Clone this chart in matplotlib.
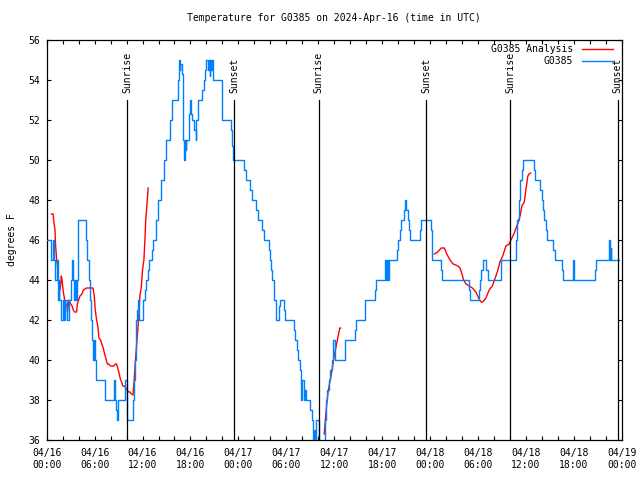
import matplotlib
matplotlib.use("Agg")
import matplotlib.pyplot as plt

# hours since 04/16 00:00 UTC
obs_hours = [0.0, 0.6, 0.75, 0.9, 1.1, 1.3, 1.4, 1.5, 1.6, 1.85, 2.0, 2.15, 2.3, 2.5, 2.75,
             3.05, 3.15, 3.3, 3.45, 3.6, 3.7, 3.85, 3.95, 4.9, 5.1, 5.3, 5.45, 5.6, 5.7, 5.8,
             5.95, 6.05, 6.2, 7.3, 8.4, 8.5, 8.65, 8.85, 8.95, 9.85, 10.1, 10.75, 10.9, 11.0,
             11.2, 11.25, 11.4, 11.5, 11.6, 12.0, 12.3, 12.4, 12.7, 12.8, 13.2, 13.3, 13.7,
             13.96, 14.25, 14.7, 14.9, 15.4, 15.75, 16.5, 16.6, 16.67, 16.75, 16.9, 17.1, 17.2,
             17.3, 17.4, 17.5, 17.8, 17.9, 18.1, 18.25, 18.5, 18.67, 18.75, 18.96, 19.5, 19.67,
             19.8, 19.9, 20.2, 20.3, 20.4, 20.5, 20.6, 20.75, 20.8, 21.9, 22.0, 23.05, 23.2,
             23.3, 24.7, 24.9, 25.5, 25.7, 26.25, 26.4, 27.0, 27.2, 27.8, 28.0, 28.1, 28.25,
             28.5, 28.75, 29.1, 29.2, 29.7, 29.9, 31.0, 31.1, 31.4, 31.5, 31.7, 31.8, 31.9,
             32.0, 32.2, 32.3, 32.5, 33.0, 33.2, 33.3, 33.45, 33.6, 33.7, 34.05, 34.85, 34.95,
             35.1, 35.3, 35.5, 35.7, 35.85, 36.1, 37.3, 37.4, 38.6, 38.75, 39.8, 39.9, 41.1,
             41.2, 42.3, 42.4, 42.5, 42.6, 42.7, 42.8, 43.9, 44.0, 44.2, 44.4, 44.7, 44.9,
             45.05, 45.2, 45.35, 45.5, 46.7, 46.9, 48.1, 48.2, 48.3, 49.4, 49.55, 52.85, 53.0,
             54.1, 54.2, 54.4, 54.6, 55.0, 55.2, 56.9, 58.8, 58.95, 59.1, 59.3, 59.5, 59.65,
             61.0, 61.2, 61.8, 62.0, 62.2, 62.3, 62.5, 62.6, 63.4, 63.6, 64.5, 64.6, 65.9,
             66.0, 68.7, 68.8, 70.4, 70.5, 70.6, 70.7, 71.6]
obs_temps = [46, 45, 46, 45, 44, 45, 43, 44, 43, 42, 43, 42, 43, 42, 43,
             44, 45, 44, 43, 44, 43, 44, 47, 46, 45, 44, 43, 42, 41, 40,
             41, 40, 39, 38, 39, 38, 37.5, 37, 38, 39, 37, 38, 39, 40,
             42, 42.5, 43, 42.6, 42, 43, 43.5, 44, 44.5, 45, 45.5, 46, 47,
             48, 49, 50, 51, 52, 53, 54, 55, 54.5, 54.8, 54.3, 51, 50,
             51, 50.5, 51, 52.3, 53, 52.3, 52, 51.5, 51, 52, 53, 53.5, 54,
             54.5, 55, 54.5, 55, 54.2, 55, 54.5, 55, 54, 53, 52, 51.5, 50.7,
             50, 49.5, 49, 48.5, 48, 47.5, 47, 46.5, 46, 45.5, 45, 44.5, 44,
             43, 42, 42.7, 43, 42.5, 42, 41.5, 41, 40.5, 40, 39.5, 39, 38,
             39, 38, 38.5, 38, 37.5, 37, 35.5, 36.5, 35.5, 37, 35, 37, 38,
             38.5, 39, 39.5, 40, 41, 40, 40.5, 41, 41.5, 42, 42.5, 43, 43.5,
             44, 44.5, 45, 44, 45, 44, 45, 45.5, 46, 46.5, 47, 47.5, 48,
             47.5, 47, 46.5, 46, 46.5, 47, 46.5, 45.5, 45, 44.5, 44, 43.5, 43,
             43.5, 44, 44.5, 45, 44.5, 44, 45, 46, 47, 48, 49, 49.5, 50,
             49.5, 49, 48.5, 48, 47.5, 47, 46.5, 46, 45.5, 45, 44.5, 44, 45,
             44, 44.5, 45, 46, 45, 45.6, 45, 45]

# analysis runs (three pieces)
ana1_hours = [0.6, 0.8, 0.9, 1.04, 1.1, 1.25, 1.35, 1.46, 1.54, 1.67, 1.75, 1.83, 1.92, 2.0,
              2.08, 2.17, 2.25, 2.4, 2.54, 2.6, 2.7, 2.8, 3.0, 3.17, 3.33, 3.5, 3.75, 3.83,
              4.0, 4.17, 4.4, 4.6, 4.8, 5.0, 5.2, 5.8, 5.96, 6.08, 6.25, 6.4, 6.54, 6.75,
              6.9, 7.08, 7.25, 7.4, 7.6, 7.75, 8.0, 8.25, 8.4, 8.6, 8.75, 8.9, 9.08, 9.25,
              9.4, 9.5, 9.75, 9.9, 10.08, 10.25, 10.42, 10.6, 10.8, 10.9, 11.0, 11.17, 11.25,
              11.4, 11.5, 11.67, 11.83, 12.0, 12.17, 12.3, 12.4, 12.5, 12.6, 12.7]
ana1_temps = [47.3, 47.3, 46.9, 46.5, 45.8, 45.0, 44.7, 44.0, 43.8, 43.5, 43.8, 44.2, 44.0, 43.7,
              43.4, 43.2, 43.0, 42.8, 42.7, 42.4, 42.7, 43.0, 42.8, 42.7, 42.5, 42.4, 42.4, 42.8,
              43.0, 43.2, 43.3, 43.5, 43.55, 43.6, 43.6, 43.6, 43.2, 42.5, 42.0, 41.7, 41.1, 41.0,
              40.8, 40.6, 40.3, 40.1, 39.8, 39.8, 39.7, 39.7, 39.7, 39.8, 39.8, 39.6, 39.3, 39.0,
              38.9, 38.7, 38.7, 38.6, 38.5, 38.4, 38.4, 38.3, 38.25, 38.7, 39.3, 40.3, 40.7,
              41.5, 42.0, 43.2, 43.6, 44.5, 45.0, 46.0, 47.0, 47.5, 48.0, 48.6]
ana2_hours = [34.75, 35.0, 35.2, 35.4, 35.6, 35.8, 36.0, 36.25, 36.5, 36.7, 36.8]
ana2_temps = [36.3, 37.5, 38.3, 38.8, 39.2, 39.7, 40.2, 40.7, 41.2, 41.6, 41.6]
ana3_hours = [48.54, 48.96, 49.4, 49.8, 50.1, 50.5, 50.9, 51.5, 51.75, 52.0, 52.2, 52.5, 52.9,
              53.3, 53.75, 54.2, 54.4, 54.6, 55.0, 55.4, 55.8, 56.25, 56.5, 56.75, 57.1, 57.5,
              57.9, 58.25, 58.6, 58.96, 59.3, 59.5, 59.8, 60.0, 60.25, 60.4, 60.6]
ana3_temps = [45.3, 45.4, 45.6, 45.6, 45.3, 45.0, 44.8, 44.7, 44.6, 44.3, 44.0, 43.8, 43.7,
              43.6, 43.4, 43.0, 42.9, 42.9, 43.1, 43.5, 43.7, 44.2, 44.5, 44.9, 45.2, 45.7,
              45.8, 46.1, 46.4, 46.8, 47.25, 47.7, 47.9, 48.5, 49.2, 49.3, 49.35]

event_hours = [10.08, 23.48, 34.05, 47.5, 58.02, 71.5]
event_names = ["Sunrise", "Sunset", "Sunrise", "Sunset", "Sunrise", "Sunset"]

tick_hours = list(range(0, 73, 6))
tick_labels = ["04/16\n00:00", "04/16\n06:00", "04/16\n12:00", "04/16\n18:00",
               "04/17\n00:00", "04/17\n06:00", "04/17\n12:00", "04/17\n18:00",
               "04/18\n00:00", "04/18\n06:00", "04/18\n12:00", "04/18\n18:00",
               "04/19\n00:00"]

plt.rcParams['font.family'] = ['DejaVu Sans Mono']
plt.rcParams['font.size'] = 7

fig = plt.figure(figsize=(6.4, 4.8), dpi=100)
ax = fig.add_axes([46.7/640, 40/480, 575/640, 400/480])

red = '#ff0000'
blue = '#0080ff'
ax.plot(ana1_hours, ana1_temps, color=red, lw=1.0, label='G0385 Analysis', zorder=2)
ax.plot(ana2_hours, ana2_temps, color=red, lw=1.0, zorder=2)
ax.plot(ana3_hours, ana3_temps, color=red, lw=1.0, zorder=2)
ax.plot(obs_hours, obs_temps, color=blue, lw=1.0, drawstyle='steps-post', label='G0385', zorder=3)

# sunrise / sunset markers
for h, name in zip(event_hours, event_names):
    ax.plot([h, h], [36, 53], color='black', lw=0.9, zorder=4)
    ax.text(h, 53.35, name, rotation=90, ha='center', va='bottom', fontsize=7, zorder=5)

ax.set_xlim(0, 72)
ax.set_ylim(36, 56)
ax.set_xticks(tick_hours)
ax.set_xticklabels(tick_labels)
ax.set_xticks(range(0, 73, 2), minor=True)
ax.set_yticks(range(36, 57, 2))
ax.tick_params(axis='both', which='both', direction='in', top=True, right=True,
               length=3, width=0.8)
ax.tick_params(axis='x', which='major', pad=6)
ax.tick_params(axis='y', which='major', pad=5)
for s in ax.spines.values():
    s.set_linewidth(0.9)

ax.set_ylabel('degrees F', labelpad=8)
ax.set_title('Temperature for G0385 on 2024-Apr-16 (time in UTC)', fontsize=7, pad=14)

ax.legend(loc='upper right', bbox_to_anchor=(0.985, 0.99), frameon=False, markerfirst=False,
          borderpad=0, borderaxespad=0, handlelength=3.2, handletextpad=0.9,
          labelspacing=0.2, fontsize=7)

fig.savefig('out.png', dpi=100)
